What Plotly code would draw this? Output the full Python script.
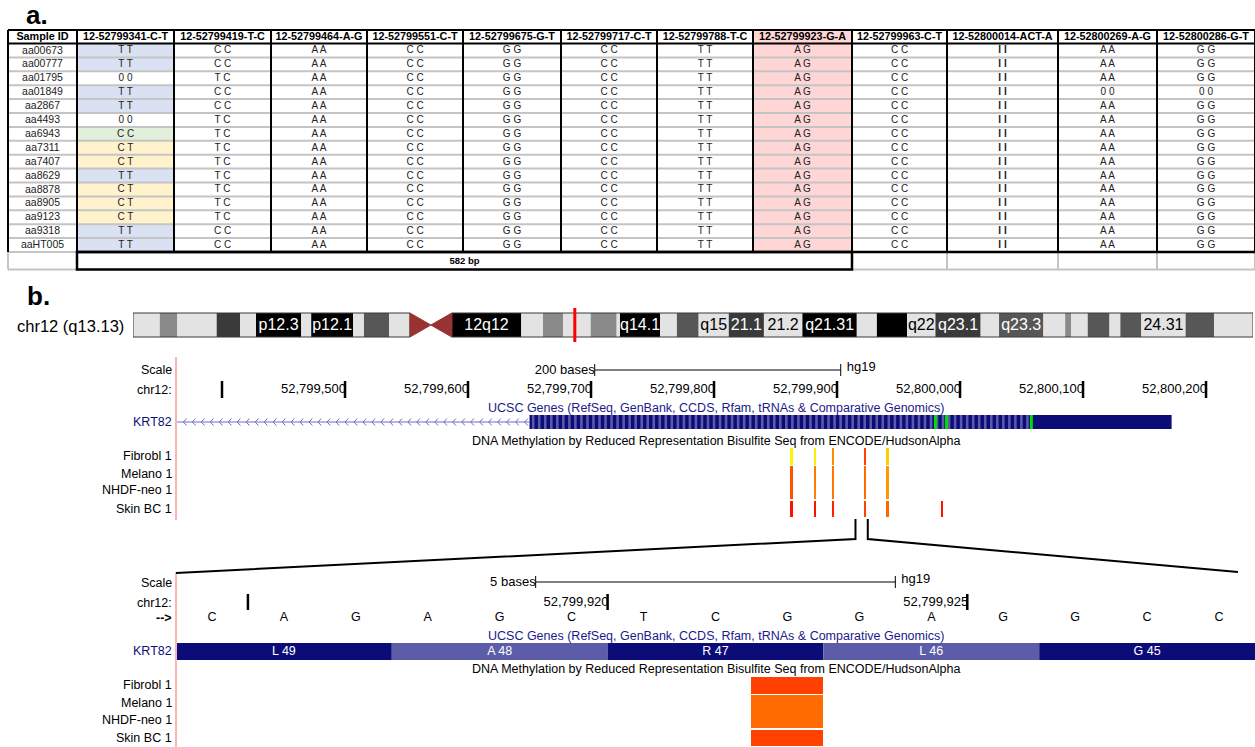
import numpy as np
import plotly.graph_objects as go

W, H = 1255, 747
FONT = "Liberation Sans, Arial, Helvetica, sans-serif"
NAVY = "#0c0c78"
LIGHT_NAVY = "#5c5ca8"

# ====================== Panel a data ======================
SAMPLE_IDS = ["aa00673", "aa00777", "aa01795", "aa01849", "aa2867", "aa4493", "aa6943",
              "aa7311", "aa7407", "aa8629", "aa8878", "aa8905", "aa9123", "aa9318", "aaHT005"]
SNP_IDS = ["12-52799341-C-T", "12-52799419-T-C", "12-52799464-A-G", "12-52799551-C-T",
           "12-52799675-G-T", "12-52799717-C-T", "12-52799788-T-C", "12-52799923-G-A",
           "12-52799963-C-T", "12-52800014-ACT-A", "12-52800269-A-G", "12-52800286-G-T"]
GT_52799341 = ["T T", "T T", "0 0", "T T", "T T", "0 0", "C C", "C T", "C T", "T T", "C T", "C T", "C T", "T T", "T T"]
GT_52799419 = ["C C", "C C", "T C", "C C", "C C", "T C", "T C", "T C", "T C", "T C", "T C", "T C", "T C", "C C", "C C"]
GT_52799464 = ["A A"] * 15
GT_52799551 = ["C C"] * 15
GT_52799675 = ["G G"] * 15
GT_52799717 = ["C C"] * 15
GT_52799788 = ["T T"] * 15
GT_52799923 = ["A G"] * 15
GT_52799963 = ["C C"] * 15
GT_52800014 = ["I I"] * 15
GT_52800269 = ["A A", "A A", "A A", "0 0", "A A", "A A", "A A", "A A", "A A", "A A", "A A", "A A", "A A", "A A", "A A"]
GT_52800286 = ["G G", "G G", "G G", "0 0", "G G", "G G", "G G", "G G", "G G", "G G", "G G", "G G", "G G", "G G", "G G"]
GENOTYPES = [GT_52799341, GT_52799419, GT_52799464, GT_52799551, GT_52799675, GT_52799717,
             GT_52799788, GT_52799923, GT_52799963, GT_52800014, GT_52800269, GT_52800286]
HIGHLIGHT_SNP = "12-52799923-G-A"
HAPLOTYPE_FIRST, HAPLOTYPE_LAST = "12-52799341-C-T", "12-52799923-G-A"
HAPLOTYPE_LABEL = "582 bp"
GENOTYPE_FILL = {"T T": "#dae1f3", "0 0": "#ffffff", "C C": "#e2efda", "C T": "#fff2cc"}

# ====================== Panel b data ======================
CHROM_LABEL = "chr12 (q13.13)"
CHR_LEN_MB = 133.85
BAND_START_MB = [0.0, 3.2, 5.3, 10.0, 12.8, 14.7, 20.1, 21.3, 26.3, 27.6, 30.6,
                 38.1, 46.4, 49.0, 51.4, 54.7, 57.8, 58.2, 63.0, 65.0, 67.6, 71.2, 75.4,
                 80.0, 86.5, 88.9, 92.5, 95.9, 101.3, 103.5, 108.8, 111.4, 112.1, 114.1,
                 116.7, 118.0, 120.5, 125.8, 129.2]
BAND_END_MB = [3.2, 5.3, 10.0, 12.8, 14.7, 20.1, 21.3, 26.3, 27.6, 30.6, 33.1,
               46.4, 49.0, 51.4, 54.7, 57.8, 58.2, 63.0, 65.0, 67.6, 71.2, 75.4, 80.0,
               86.5, 88.9, 92.5, 95.9, 101.3, 103.5, 108.8, 111.4, 112.1, 114.1, 116.7,
               118.0, 120.5, 125.8, 129.2, 133.85]
BAND_STAIN = ["gneg", "gpos25", "gneg", "gpos75", "gneg", "gpos100", "gneg", "gpos100", "gneg", "gpos50", "gneg",
              "gpos100", "gneg", "gpos25", "gneg", "gpos25", "gneg", "gpos100", "gneg", "gpos50", "gneg", "gpos75", "gneg",
              "gpos100", "gneg", "gpos100", "gneg", "gpos75", "gneg", "gpos50", "gneg", "gpos25", "gneg", "gpos50",
              "gneg", "gpos50", "gneg", "gpos50", "gneg"]
BAND_LABEL = ["", "", "", "", "", "p12.3", "", "p12.1", "", "", "",
              "12q12", "", "", "", "", "", "q14.1", "", "", "q15", "21.1", "21.2",
              "q21.31", "", "", "q22", "q23.1", "", "q23.3", "", "", "", "",
              "", "", "24.31", "", ""]
CEN_START_MB, CEN_END_MB = 33.1, 38.1
LOCUS_MB = 52.8
STAIN_COLOR = {"gneg": "#e3e3e3", "gpos25": "#8a8a8a", "gpos50": "#575757", "gpos75": "#3a3a3a", "gpos100": "#000000"}

TOP_VIEW = [52799362.6, 52800239.8]
TOP_TICKS = [52799400, 52799500, 52799600, 52799700, 52799800, 52799900, 52800000, 52800100, 52800200]
TOP_SCALE = [52799703, 52799903]
TOP_SCALE_LABEL = "200 bases"
ASSEMBLY = "hg19"
GENE = "KRT82"
GENE_TRACK_TITLE = "UCSC Genes (RefSeq, GenBank, CCDS, Rfam, tRNAs & Comparative Genomics)"
METH_TRACK_TITLE = "DNA Methylation by Reduced Representation Bisulfite Seq from ENCODE/HudsonAlpha"
GENE_LINE = [52799300, 52799650]
GENE_BLOCK = [52799650, 52800172]
GENE_STRIPED = [52799650, 52800057]
GREEN_MARKS = [52799980, 52799989, 52800058]
METH_TRACKS = ["Fibrobl 1", "Melano 1", "NHDF-neo 1", "Skin BC 1"]
METH_POS = [52799863, 52799882, 52799897, 52799923, 52799941, 52799985]
METH_FIBROBL = [4, 7, 45, 75, 20, None]
METH_MELANO = [67, 53, 53, 58, 40, None]
METH_NHDF = [67, 50, 53, 58, 40, None]
METH_SKIN = [93, 93, 87, 74, 60, 93]
METH_VALUES = [METH_FIBROBL, METH_MELANO, METH_NHDF, METH_SKIN]
ZOOM_MARKS = [52799915, 52799925]

BOTTOM_VIEW = [52799914.5, 52799929.5]
BOTTOM_TICKS = [52799915, 52799920, 52799925]
BOTTOM_SCALE = [52799919.5, 52799924.5]
BOTTOM_SCALE_LABEL = "5 bases"
BASES = ["C", "A", "G", "A", "G", "C", "T", "C", "G", "G", "A", "G", "G", "C", "C"]
BASE_START = 52799915
CODON_LABELS = ["L 49", "A 48", "R 47", "L 46", "G 45"]
CODON_START = [52799915, 52799918, 52799921, 52799924, 52799927]
METH_SITE = 52799923
METH_SCALE = [[0.0, "#ffff00"], [1.0, "#ff0000"]]

# ====================== layout geometry (pixels) ======================
COL_EDGES = [8, 77, 174, 271, 367, 463, 561, 657, 753, 852, 947, 1058, 1157, 1255]
T_TOP, HDR_H, ROW_H, FOOT_H = 30, 13.5, 13.9, 17.5
DATA_BOT = T_TOP + HDR_H + len(SAMPLE_IDS) * ROW_H
FOOT_BOT = DATA_BOT + FOOT_H
TRACK_LEFT = 176
LABEL_X = 174

TOP_ROWS = [(448, 464.5), (465.5, 482), (482, 499), (500.5, 517)]
BOT_ROWS = [(677, 693.5), (694.5, 711), (711, 728), (729.5, 746)]
TOP_LABEL_Y = dict(scale=370, chrom=390, gene=422)
BOT_LABEL_Y = dict(scale=583, chrom=603, strand=618, gene=651)


def px(v):
    return v / W


def py(v):
    return 1 - v / H


fig = go.Figure()
shapes = []
annotations = []


def add_label(text, x, y, size=12.5, color="black", xanchor="right", bold=False):
    annotations.append(dict(text=f"<b>{text}</b>" if bold else text, x=px(x), y=py(y),
                            xref="paper", yref="paper", xanchor=xanchor, yanchor="middle",
                            showarrow=False, font=dict(family=FONT, size=size, color=color)))


def seg_trace(xs, ys, color, width, xa, ya):
    fig.add_trace(go.Scatter(x=xs, y=ys, mode="lines", line=dict(color=color, width=width),
                             xaxis=xa, yaxis=ya, hoverinfo="skip", showlegend=False))


def text_trace(xs, ys, texts, xa, ya, size=12.5, color="black", pos="middle center"):
    fig.add_trace(go.Scatter(x=xs, y=ys, mode="text", text=texts, textposition=pos,
                             textfont=dict(family=FONT, size=size, color=color),
                             xaxis=xa, yaxis=ya, hoverinfo="skip", showlegend=False))


# ====================== panel a: table ======================
def row_top(i):
    return T_TOP + HDR_H + i * ROW_H


hi = SNP_IDS.index(HIGHLIGHT_SNP) + 1
shapes.append(dict(type="rect", xref="x", yref="y", x0=COL_EDGES[hi], x1=COL_EDGES[hi + 1],
                   y0=T_TOP, y1=DATA_BOT, fillcolor="#ffd6d6", line=dict(width=0), layer="below"))
for i, g in enumerate(GT_52799341):
    shapes.append(dict(type="rect", xref="x", yref="y", x0=COL_EDGES[1], x1=COL_EDGES[2],
                       y0=row_top(i), y1=row_top(i + 1), fillcolor=GENOTYPE_FILL[g],
                       line=dict(width=0), layer="below"))
GRAY = "#c4c4c4"
for i in range(1, len(SAMPLE_IDS)):
    shapes.append(dict(type="line", xref="x", yref="y", x0=COL_EDGES[0], x1=COL_EDGES[-1],
                       y0=row_top(i), y1=row_top(i), line=dict(color=GRAY, width=2)))
for a, b in [(COL_EDGES[0], COL_EDGES[1]), (COL_EDGES[hi + 1], COL_EDGES[-1])]:
    shapes.append(dict(type="line", xref="x", yref="y", x0=a, x1=b, y0=FOOT_BOT, y1=FOOT_BOT,
                       line=dict(color=GRAY, width=2)))
shapes.append(dict(type="line", xref="x", yref="y", x0=COL_EDGES[0], x1=COL_EDGES[1],
                   y0=DATA_BOT, y1=DATA_BOT, line=dict(color=GRAY, width=2)))
for e in [COL_EDGES[0]] + COL_EDGES[hi + 2:]:
    shapes.append(dict(type="line", xref="x", yref="y", x0=e, x1=e, y0=DATA_BOT, y1=FOOT_BOT,
                       line=dict(color=GRAY, width=2)))
for yv in [T_TOP, T_TOP + HDR_H]:
    shapes.append(dict(type="line", xref="x", yref="y", x0=COL_EDGES[0], x1=COL_EDGES[-1],
                       y0=yv, y1=yv, line=dict(color="black", width=2)))
for e in COL_EDGES:
    shapes.append(dict(type="line", xref="x", yref="y", x0=e, x1=e, y0=T_TOP, y1=DATA_BOT,
                       line=dict(color="black", width=2)))
shapes.append(dict(type="line", xref="x", yref="y", x0=COL_EDGES[1], x1=COL_EDGES[-1],
                   y0=DATA_BOT, y1=DATA_BOT, line=dict(color="black", width=2.5)))
h0 = SNP_IDS.index(HAPLOTYPE_FIRST) + 1
h1 = SNP_IDS.index(HAPLOTYPE_LAST) + 2
shapes.append(dict(type="rect", xref="x", yref="y", x0=COL_EDGES[h0], x1=COL_EDGES[h1],
                   y0=DATA_BOT, y1=FOOT_BOT, line=dict(color="black", width=2.5)))

centers = [(COL_EDGES[k] + COL_EDGES[k + 1]) / 2 for k in range(len(COL_EDGES) - 1)]
hdr_y = T_TOP + HDR_H / 2 + 0.5
text_trace(centers, [hdr_y] * len(centers), [f"<b>{t}</b>" for t in ["Sample ID"] + SNP_IDS],
           "x", "y", size=10.8, color="black")
row_c = [row_top(i) + ROW_H / 2 + 0.5 for i in range(len(SAMPLE_IDS))]
text_trace([centers[0]] * len(SAMPLE_IDS), row_c, SAMPLE_IDS, "x", "y", size=10.5, color="#222222")
for k, col in enumerate(GENOTYPES):
    txt = [f"<b>{g}</b>" if g == "I I" else g for g in col]
    text_trace([centers[k + 1]] * len(col), row_c, txt, "x", "y", size=10, color="#222222")
text_trace([(COL_EDGES[h0] + COL_EDGES[h1]) / 2], [(DATA_BOT + FOOT_BOT) / 2 + 0.5],
           [f"<b>{HAPLOTYPE_LABEL}</b>"], "x", "y", size=9.5, color="black")

add_label("a.", 24, 15, size=26, xanchor="left", bold=True)
add_label("b.", 25, 296, size=26, xanchor="left", bold=True)

# ====================== ideogram ======================
IDEO_TOP, IDEO_BOT = 313, 337
for s, e, st in zip(BAND_START_MB, BAND_END_MB, BAND_STAIN):
    shapes.append(dict(type="rect", xref="x2", yref="y2", x0=s, x1=e, y0=IDEO_TOP, y1=IDEO_BOT,
                       fillcolor=STAIN_COLOR[st], line=dict(width=0), layer="below"))
for a, b in [(0, CEN_START_MB), (CEN_END_MB, CHR_LEN_MB)]:
    shapes.append(dict(type="rect", xref="x2", yref="y2", x0=a, x1=b, y0=IDEO_TOP, y1=IDEO_BOT,
                       line=dict(color="#3a3a3a", width=1)))
cmid = (CEN_START_MB + CEN_END_MB) / 2
ymid = (IDEO_TOP + IDEO_BOT) / 2
for edge in [CEN_START_MB, CEN_END_MB]:
    shapes.append(dict(type="path", xref="x2", yref="y2",
                       path=f"M {edge},{IDEO_TOP} L {cmid},{ymid} L {edge},{IDEO_BOT} Z",
                       fillcolor="#993333", line=dict(color="#993333", width=1)))
lab_x, lab_t, lab_c = [], [], []
for s, e, st, lb in zip(BAND_START_MB, BAND_END_MB, BAND_STAIN, BAND_LABEL):
    if lb:
        lab_x.append((s + e) / 2)
        lab_t.append(lb)
        lab_c.append("white" if st in ("gpos100", "gpos75", "gpos50") else "black")
fig.add_trace(go.Scatter(x=lab_x, y=[ymid + 0.5] * len(lab_x), mode="text", text=lab_t,
                         textfont=dict(family=FONT, size=16, color=lab_c), xaxis="x2", yaxis="y2",
                         hoverinfo="skip", showlegend=False))
shapes.append(dict(type="line", xref="x2", yref="y2", x0=LOCUS_MB, x1=LOCUS_MB, y0=308, y1=342,
                   line=dict(color="#ff0000", width=3)))
add_label(CHROM_LABEL, 126, 326, size=16.5)


# ====================== browser panels ======================
def ruler(xa, ya, view, ticks, y0, y1, ylab, offset, scale, ys, scale_label):
    units_per_px = (view[1] - view[0]) / (W - TRACK_LEFT)
    xs, yy = [], []
    for t in ticks:
        xs += [t + offset, t + offset, None]
        yy += [y0, y1, None]
    seg_trace(xs, yy, "black", 2.5, xa, ya)
    text_trace([t + offset + units_per_px for t in ticks[1:]], [ylab] * (len(ticks) - 1),
               [f"{t:,}" for t in ticks[1:]], xa, ya, size=13, pos="middle left")
    a, b = scale
    seg_trace([a, a, None, a, b, None, b, b], [ys - 6, ys + 6, None, ys, ys, None, ys - 6, ys + 6],
              "black", 1, xa, ya)
    text_trace([a], [ys + 0.5], [scale_label], xa, ya, size=13, pos="middle left")
    text_trace([b + 6 * units_per_px], [ys - 2.5], [ASSEMBLY], xa, ya, size=13, pos="middle right")


def meth_bars(xa, ya, rows, width, sel=None):
    for (r0, r1), vals in zip(rows, METH_VALUES):
        xs, vs = [], []
        for p, v in zip(METH_POS, vals):
            if v is None or (sel is not None and p != sel):
                continue
            xs.append(p)
            vs.append(v)
        fig.add_trace(go.Bar(x=xs, y=[r1 - r0] * len(xs), base=[r0] * len(xs), width=width,
                             marker=dict(color=vs, colorscale=METH_SCALE, cmin=0, cmax=100,
                                         line=dict(width=0)),
                             xaxis=xa, yaxis=ya, hoverinfo="skip", showlegend=False))


# ---- top browser (x3, y3)
ruler("x3", "y3", TOP_VIEW, TOP_TICKS, 381, 398, 389.5, 0, TOP_SCALE, 370, TOP_SCALE_LABEL)
annotations.append(dict(text=GENE_TRACK_TITLE, x=0.5, y=py(408), xref="x3 domain", yref="paper",
                        showarrow=False, yanchor="middle", font=dict(family=FONT, size=12.5, color="#1a1a8c")))
annotations.append(dict(text=METH_TRACK_TITLE, x=0.5, y=py(441), xref="x3 domain", yref="paper",
                        showarrow=False, yanchor="middle", font=dict(family=FONT, size=12.5, color="black")))
GENE_Y = 422
seg_trace([TOP_VIEW[0], GENE_LINE[1]], [GENE_Y, GENE_Y], "#6c6cc8", 1, "x3", "y3")
ax, ay = [], []
for a in np.arange(GENE_LINE[1] - 4, TOP_VIEW[0] + 1, -7.3):
    ax += [a + 2.6, a, a + 2.6, None]
    ay += [GENE_Y - 3.5, GENE_Y, GENE_Y + 3.5, None]
seg_trace(ax, ay, "#6c6cc8", 1, "x3", "y3")
shapes.append(dict(type="rect", xref="x3", yref="y3", x0=GENE_BLOCK[0], x1=GENE_BLOCK[1],
                   y0=415, y1=429, fillcolor=NAVY, line=dict(width=0), layer="below"))
sx, sy = [], []
for a in np.arange(GENE_STRIPED[0] + 3, GENE_STRIPED[1] - 1, 4.9):
    sx += [a, a, None]
    sy += [415, 429, None]
seg_trace(sx, sy, "#5a5aaa", 2.6, "x3", "y3")
for g in GREEN_MARKS:
    shapes.append(dict(type="rect", xref="x3", yref="y3", x0=g - 1.2, x1=g + 1.2, y0=415, y1=429,
                       fillcolor="#00dd00", line=dict(width=0)))
meth_bars("x3", "y3", TOP_ROWS, 1.7)
shapes.append(dict(type="line", xref="x3 domain", yref="y3", x0=0, x1=0, y0=357, y1=520,
                   line=dict(color="#ffb4b4", width=2)))
add_label("Scale", LABEL_X, TOP_LABEL_Y["scale"])
add_label("chr12:", LABEL_X, TOP_LABEL_Y["chrom"])
add_label(GENE, LABEL_X, TOP_LABEL_Y["gene"], color=NAVY)
for name, (r0, r1) in zip(METH_TRACKS, TOP_ROWS):
    add_label(name, LABEL_X, (r0 + r1) / 2)

# ---- bottom browser (x4, y4)
ruler("x4", "y4", BOTTOM_VIEW, BOTTOM_TICKS, 594, 610, 603, 0.5, BOTTOM_SCALE, 582, BOTTOM_SCALE_LABEL)
text_trace([BASE_START + i for i in range(len(BASES))], [618] * len(BASES), BASES, "x4", "y4", size=12.5)
annotations.append(dict(text=GENE_TRACK_TITLE, x=0.5, y=py(636), xref="x4 domain", yref="paper",
                        showarrow=False, yanchor="middle", font=dict(family=FONT, size=12.5, color="#1a1a8c")))
annotations.append(dict(text=METH_TRACK_TITLE, x=0.5, y=py(669), xref="x4 domain", yref="paper",
                        showarrow=False, yanchor="middle", font=dict(family=FONT, size=12.5, color="black")))
for k, (c0, lb) in enumerate(zip(CODON_START, CODON_LABELS)):
    shapes.append(dict(type="rect", xref="x4", yref="y4", x0=c0 - 0.5, x1=c0 + 2.5, y0=643, y1=660,
                       fillcolor=NAVY if k % 2 == 0 else LIGHT_NAVY, line=dict(width=0), layer="below"))
text_trace([c + 1 for c in CODON_START], [651.5] * len(CODON_START), CODON_LABELS, "x4", "y4",
           size=12.5, color="white")
meth_bars("x4", "y4", BOT_ROWS, 1.0, sel=METH_SITE)
shapes.append(dict(type="line", xref="x4 domain", yref="y4", x0=0, x1=0, y0=572, y1=747,
                   line=dict(color="#ffb4b4", width=2)))
add_label("Scale", LABEL_X, BOT_LABEL_Y["scale"])
add_label("chr12:", LABEL_X, BOT_LABEL_Y["chrom"])
add_label("--&gt;", LABEL_X, BOT_LABEL_Y["strand"], bold=True)
add_label(GENE, LABEL_X, BOT_LABEL_Y["gene"], color=NAVY)
for name, (r0, r1) in zip(METH_TRACKS, BOT_ROWS):
    add_label(name, LABEL_X, (r0 + r1) / 2)


# ---- zoom connectors (computed from both axis mappings)
def top_px(pos):
    return TRACK_LEFT + (pos - TOP_VIEW[0]) / (TOP_VIEW[1] - TOP_VIEW[0]) * (W - TRACK_LEFT)


def bot_px(pos):
    return TRACK_LEFT + (pos - BOTTOM_VIEW[0]) / (BOTTOM_VIEW[1] - BOTTOM_VIEW[0]) * (W - TRACK_LEFT)


zl, zr = top_px(ZOOM_MARKS[0]), top_px(ZOOM_MARKS[1])
bl, br = bot_px(BOTTOM_VIEW[0]), bot_px(BOTTOM_VIEW[1]) - 17
for xt, xb, yb in [(zl, bl, 573), (zr, br, 572)]:
    shapes.append(dict(type="path", xref="paper", yref="paper",
                       path=f"M {px(xt)},{py(519)} L {px(xt)},{py(539)} L {px(xb)},{py(yb)}",
                       line=dict(color="black", width=2)))


# ====================== axes & layout ======================
def axis(domain, rng):
    return dict(domain=domain, range=rng, visible=False, fixedrange=True, autorange=False)


fig.update_layout(
    width=W, height=H, margin=dict(l=0, r=0, t=0, b=0),
    paper_bgcolor="white", plot_bgcolor="rgba(0,0,0,0)",
    showlegend=False, barmode="overlay", bargap=0,
    xaxis=axis([0, 1], [0, W]), yaxis=axis([py(285), 1], [285, 0]),
    xaxis2=dict(axis([px(133), px(1253)], [0, CHR_LEN_MB]), anchor="y2"),
    yaxis2=dict(axis([py(350), py(300)], [350, 300]), anchor="x2"),
    xaxis3=dict(axis([px(TRACK_LEFT), 1], TOP_VIEW), anchor="y3"),
    yaxis3=dict(axis([py(540), py(355)], [540, 355]), anchor="x3"),
    xaxis4=dict(axis([px(TRACK_LEFT), 1], BOTTOM_VIEW), anchor="y4"),
    yaxis4=dict(axis([0, py(540)], [747, 540]), anchor="x4"),
    shapes=shapes, annotations=annotations,
    font=dict(family=FONT),
)
fig.write_html("out.html", config={"displayModeBar": False},
               post_script="document.body.style.margin='0';document.body.style.overflow='hidden';")
